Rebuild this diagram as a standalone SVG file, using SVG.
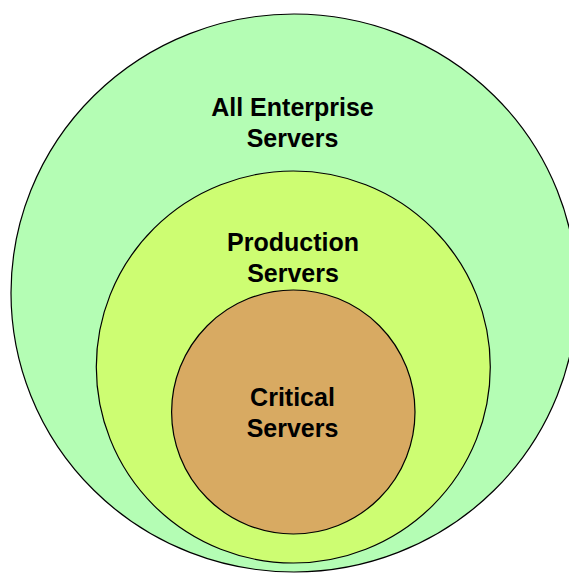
<svg xmlns="http://www.w3.org/2000/svg" width="569" height="574" viewBox="0 0 569 574">
  <style>
    .ring { stroke: #000; stroke-width: 1.2; }
    .label { font-family: "Liberation Sans", Arial, sans-serif; font-weight: bold; font-size: 25px; fill: #000; text-anchor: middle; }
  </style>
  <rect width="569" height="574" fill="#fff"/>
  <g id="all-enterprise">
    <ellipse class="ring" cx="294" cy="293" rx="283" ry="279" fill="#b4fdb4"/>
    <text class="label" x="292.5" y="116">All Enterprise</text>
    <text class="label" x="292.5" y="147">Servers</text>
  </g>
  <g id="production">
    <ellipse class="ring" cx="293.3" cy="367" rx="197" ry="196" fill="#cdfd72"/>
    <text class="label" x="293" y="251">Production</text>
    <text class="label" x="293" y="282">Servers</text>
  </g>
  <g id="critical">
    <ellipse class="ring" cx="293.3" cy="412" rx="121.7" ry="122" fill="#d8aa62"/>
    <text class="label" x="292.5" y="406">Critical</text>
    <text class="label" x="292.5" y="437">Servers</text>
  </g>
  <g id="connectors"/>
</svg>
